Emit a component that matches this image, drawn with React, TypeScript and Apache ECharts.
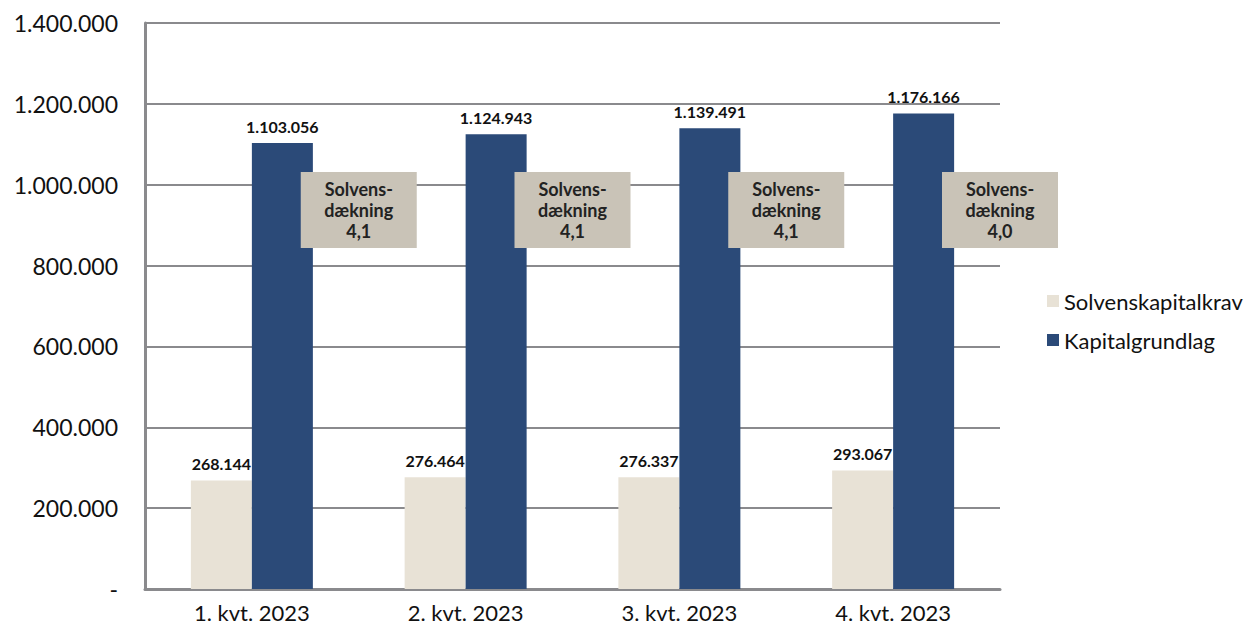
import React, { useEffect, useRef } from "react";
import * as echarts from "echarts";

const categories = ["1. kvt. 2023", "2. kvt. 2023", "3. kvt. 2023", "4. kvt. 2023"];
const solvenskapitalkrav = [268144, 276464, 276337, 293067];
const kapitalgrundlag = [1103056, 1124943, 1139491, 1176166];
const solvensdaekning = ["4,1", "4,1", "4,1", "4,0"];
const yTicks = [0, 200000, 400000, 600000, 800000, 1000000, 1200000, 1400000];

const FONT = "Lato";
const fmt = (v: number) => (v === 0 ? "-" : v.toLocaleString("de-DE"));

export default function App() {
  const ref = useRef<HTMLDivElement>(null);
  useEffect(() => {
    if (!ref.current) return;
    const chart = echarts.init(ref.current, undefined, { renderer: "svg" });
    const labelStyle = {
      show: true,
      position: "top" as const,
      distance: 9,
      fontFamily: FONT,
      fontWeight: "bold" as const,
      fontSize: 16,
      color: "#111",
      formatter: (p: any) => fmt(p.value),
    };
    chart.setOption({
      animation: false,
      backgroundColor: "#fff",
      grid: { left: 145, right: 253, top: 23, bottom: 35, containLabel: false },
      legend: {
        orient: "vertical",
        left: 1042,
        top: 285,
        itemWidth: 12,
        itemHeight: 12,
        itemGap: 17,
        icon: "rect",
        textStyle: { fontFamily: FONT, fontSize: 22, color: "#111" },
        data: ["Solvenskapitalkrav", "Kapitalgrundlag"],
      },
      xAxis: {
        type: "category",
        data: categories,
        axisLine: { lineStyle: { color: "#8a8a8d", width: 3 } },
        axisTick: { show: false },
        axisLabel: { fontFamily: FONT, fontSize: 22, color: "#111", margin: 12 },
      },
      yAxis: {
        type: "value",
        min: 0,
        max: 1400000,
        interval: 200000,
        axisLine: { show: true, lineStyle: { color: "#8a8a8d", width: 3 } },
        axisTick: { show: false },
        splitLine: { lineStyle: { color: "#8a8a8d", width: 2 } },
        axisLabel: {
          fontFamily: FONT,
          fontSize: 23,
          color: "#111",
          margin: 27,
          formatter: (v: number) => (yTicks.includes(v) ? fmt(v) : ""),
        },
      },
      series: [
        {
          name: "Solvenskapitalkrav",
          type: "bar",
          data: solvenskapitalkrav,
          barWidth: 61,
          barGap: "0%",
          itemStyle: { color: "#e8e2d6" },
          label: labelStyle,
        },
        {
          name: "Kapitalgrundlag",
          type: "bar",
          data: kapitalgrundlag,
          barWidth: 61,
          barGap: "0%",
          itemStyle: { color: "#2b4a78" },
          label: labelStyle,
        },
      ],
    });
    const c0 = chart.convertToPixel({ xAxisIndex: 0 }, 0) as number;
    const c1 = chart.convertToPixel({ xAxisIndex: 0 }, 1) as number;
    const half = (c1 - c0) / 2;
    const boxW = 116;
    const boxH = 76;
    const boxCy = 210;
    chart.setOption({
      graphic: solvensdaekning.map((r, i) => {
        const cx = (chart.convertToPixel({ xAxisIndex: 0 }, i) as number) + half;
        return {
          type: "group",
          children: [
            {
              type: "rect",
              shape: { x: cx - boxW / 2, y: boxCy - boxH / 2, width: boxW, height: boxH },
              style: { fill: "#c9c3b7" },
              z: 10,
            },
            {
              type: "text",
              x: cx,
              y: boxCy,
              z: 11,
              style: {
                text: "Solvens-\ndækning\n" + r,
                fontFamily: FONT,
                fontWeight: "bold",
                fontSize: 18,
                lineHeight: 21,
                fill: "#222",
                align: "center",
                verticalAlign: "middle",
              },
            },
          ],
        };
      }),
    });
    return () => chart.dispose();
  }, []);
  return <div ref={ref} style={{ width: 1253, height: 624, position: "absolute", left: 0, top: 0 }} />;
}
